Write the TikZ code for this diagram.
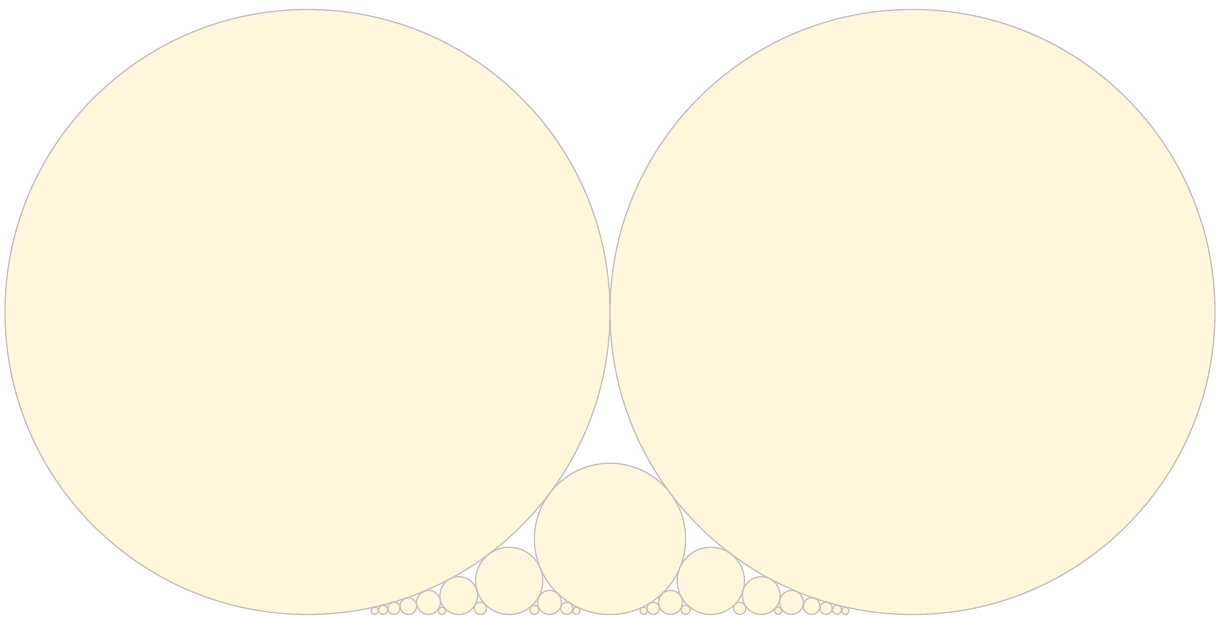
\documentclass[tikz,border=0pt]{standalone}
\usepackage{xcolor}
\usepackage{tikz}

\definecolor{fordfill}{HTML}{FFF7DC}
\definecolor{fordline}{HTML}{C4C2C0}

\begin{document}
\begin{tikzpicture}[
  x=1pt,
  y=1pt,
  fordcircle/.style={fill=fordfill, draw=fordline, line width=1.3pt},
]
\path[use as bounding box] (0,0) rectangle (1218,617);

% Layout.
\def\unit{605}   % pt per unit on the base line
\def\xzero{307.5}
\def\ybase{2.5}

% Ford circles p/q for q up to 9.
\foreach \q in {1,...,9} {
  \foreach \p in {0,...,\q} {
    \pgfmathtruncatemacro{\g}{gcd(\p,\q)}
    \ifnum\g=1
      \pgfmathsetmacro{\rr}{\unit/(2*\q*\q)}
      \pgfmathsetmacro{\xx}{\xzero + \unit*\p/\q}
      \draw[fordcircle] (\xx,\ybase+\rr) circle (\rr);
    \fi
  }
}

\end{tikzpicture}
\end{document}
